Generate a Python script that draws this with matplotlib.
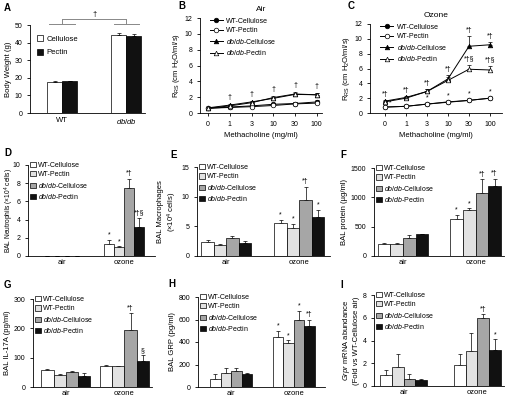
import matplotlib
matplotlib.use("Agg")
import matplotlib.pyplot as plt
import numpy as np
from matplotlib.patches import Patch
from matplotlib.lines import Line2D

plt.rcParams['font.family'] = ['Liberation Sans', 'DejaVu Sans']
plt.rcParams['mathtext.fontset'] = 'custom'
plt.rcParams['mathtext.rm'] = 'Liberation Sans'
plt.rcParams['mathtext.it'] = 'Liberation Sans:italic'
plt.rcParams['font.size'] = 5
plt.rcParams['axes.linewidth'] = 0.6
plt.rcParams['xtick.major.width'] = 0.6
plt.rcParams['ytick.major.width'] = 0.6
plt.rcParams['xtick.major.size'] = 2
plt.rcParams['ytick.major.size'] = 2
plt.rcParams['xtick.labelsize'] = 5
plt.rcParams['ytick.labelsize'] = 5

# ---- data ----
groups_a = ['WT', r'$\mathit{db/db}$']
bw_cellulose = [17.8, 44.5]
bw_cellulose_err = [0.3, 1.0]
bw_pectin = [18.0, 43.5]
bw_pectin_err = [0.4, 1.5]

mch_labels = ['0', '1', '3', '10', '30', '100']
series_names = ['WT-Cellulose', 'WT-Pectin', r'$\mathit{db/db}$-Cellulose', r'$\mathit{db/db}$-Pectin']

air_wt_cel = [0.6, 0.75, 0.9, 1.1, 1.2, 1.4]
air_wt_pec = [0.6, 0.7, 0.8, 0.95, 1.15, 1.25]
air_db_cel = [0.65, 1.0, 1.4, 1.85, 2.35, 2.3]
air_db_pec = [0.6, 0.9, 1.3, 1.95, 2.4, 2.3]
air_err = [0.05, 0.1, 0.15, 0.2, 0.2, 0.2]

oz_wt_cel = [0.8, 0.9, 1.2, 1.5, 1.7, 2.0]
oz_wt_pec = [0.8, 0.9, 1.2, 1.45, 1.7, 2.0]
oz_db_cel = [1.6, 2.1, 2.9, 4.6, 9.0, 9.2]
oz_db_cel_err = [0.2, 0.2, 0.3, 0.5, 1.4, 0.4]
oz_db_pec = [1.5, 2.0, 2.9, 4.4, 5.9, 5.8]
oz_db_pec_err = [0.15, 0.2, 0.3, 0.4, 0.6, 0.6]
oz_wt_err = [0.05, 0.1, 0.1, 0.1, 0.15, 0.15]

bar_groups = ['air', 'ozone']
# each: [WT-Cel, WT-Pec, db-Cel, db-Pec] per group
neut = [[0, 0, 0, 0], [1.3, 0.95, 7.5, 3.15]]
neut_err = [[0, 0, 0, 0], [0.45, 0.1, 1.0, 1.0]]
neut_marks = [['', '', '', ''], ['*', '*', '*†', '*†§']]

macro = [[2.4, 1.8, 3.0, 2.2], [5.5, 4.7, 9.5, 6.6]]
macro_err = [[0.3, 0.2, 0.4, 0.4], [0.6, 0.7, 2.2, 1.2]]
macro_marks = [['', '', '', ''], ['*', '*', '*†', '*']]

protein = [[200, 210, 310, 370], [630, 790, 1070, 1190]]
protein_err = [[20, 10, 50, 0], [70, 20, 240, 130]]
protein_marks = [['', '', '', ''], ['*', '*', '*†', '*†']]

il17 = [[57, 42, 52, 36], [72, 70, 193, 88]]
il17_err = [[3, 3, 2, 13], [2, 2, 58, 20]]
il17_marks = [['', '', '', ''], ['', '', '*†', '§']]

grp = [[75, 125, 140, 115], [445, 390, 600, 545]]
grp_err = [[45, 45, 25, 10], [55, 25, 75, 55]]
grp_marks = [['', '', '', ''], ['*', '*', '*', '*†']]

grpr = [[1.0, 1.7, 0.65, 0.55], [1.85, 3.1, 6.0, 3.2]]
grpr_err = [[0.4, 1.1, 0.4, 0.05], [1.0, 1.6, 0.3, 0.9]]
grpr_marks = [['', '', '', ''], ['', '', '*†', '*']]

bar_colors = ['white', '#e2e2e2', '#a6a6a6', '#111111']

W, H = 506, 398
fig = plt.figure(figsize=(W / 100, H / 100), dpi=100)


def px_axes(x0, y0, x1, y1):
    ax = fig.add_axes([x0 / W, 1 - y1 / H, (x1 - x0) / W, (y1 - y0) / H])
    ax.spines['top'].set_visible(False)
    ax.spines['right'].set_visible(False)
    return ax


def letter(x, y, s):
    fig.text(x / W, 1 - y / H, s, fontsize=7, fontweight='bold', ha='left', va='center')


def bar_panel(ax, vals, errs, marks, ymax, yticks, ylabel, width, xlim, ylsize=5.5):
    vals = np.array(vals)
    errs = np.array(errs)
    x = np.arange(len(bar_groups))
    for i in range(4):
        pos = x + (i - 1.5) * width
        ax.bar(pos, vals[:, i], width, color=bar_colors[i], edgecolor='black', linewidth=0.5, zorder=2)
        e = errs[:, i]
        ax.errorbar(pos, vals[:, i], yerr=[np.zeros_like(e), e], fmt='none', ecolor='black',
                    elinewidth=0.5, capsize=1.5, capthick=0.5, zorder=1)
        for j in range(len(bar_groups)):
            if marks[j][i]:
                ax.text(pos[j], vals[j, i] + errs[j, i] + ymax * 0.015, marks[j][i],
                        ha='center', va='bottom', fontsize=5)
    ax.set_ylim(0, ymax)
    ax.set_yticks(yticks)
    ax.set_xlim(*xlim)
    ax.set_xticks(x)
    ax.set_xticklabels(bar_groups, fontsize=5.5)
    ax.tick_params(axis='x', length=0, pad=2)
    ax.set_ylabel(ylabel, fontsize=ylsize, labelpad=2)
    handles = [Patch(facecolor=c, edgecolor='black', linewidth=0.5) for c in bar_colors]
    ax.legend(handles, series_names, loc='upper left', bbox_to_anchor=(0.0, 1.06), frameon=False,
              fontsize=5, handlelength=0.8, handleheight=0.8, handletextpad=0.4,
              labelspacing=0.35, borderpad=0, borderaxespad=0.3)


# ---- A ----
ax = px_axes(30, 25, 145, 113)
xa = np.arange(2)
wa = 0.233
ax.bar(xa - wa / 2, bw_cellulose, wa, color='white', edgecolor='black', linewidth=0.5, zorder=2)
ax.bar(xa + wa / 2, bw_pectin, wa, color='#111111', edgecolor='black', linewidth=0.5, zorder=2)
ax.errorbar(xa - wa / 2, bw_cellulose, yerr=[[0, 0], bw_cellulose_err], fmt='none', ecolor='black',
            elinewidth=0.5, capsize=1.5, capthick=0.5)
ax.errorbar(xa + wa / 2, bw_pectin, yerr=[[0, 0], bw_pectin_err], fmt='none', ecolor='black',
            elinewidth=0.5, capsize=1.5, capthick=0.5)
ax.set_ylim(0, 50)
ax.set_yticks([0, 10, 20, 30, 40, 50])
ax.set_xlim(-0.5, 1.29)
ax.set_xticks(xa)
ax.set_xticklabels(groups_a, fontsize=5.5)
ax.tick_params(axis='x', length=0, pad=3)
ax.set_ylabel('Body Weight (g)', fontsize=5.5, labelpad=2)
for g in xa:
    ax.plot([g - 0.2, g + 0.2], [50.6, 50.6], color='#888888', lw=0.7, clip_on=False)
    ax.plot([g, g], [50.6, 53.2], color='#888888', lw=0.7, clip_on=False)
ax.plot([0, 1], [53.2, 53.2], color='#888888', lw=0.7, clip_on=False)
ax.text(0.5, 53.8, '†', ha='center', va='bottom', fontsize=5.5)
ax.legend([Patch(facecolor='white', edgecolor='black', linewidth=0.5),
           Patch(facecolor='#111111', edgecolor='black', linewidth=0.5)],
          ['Cellulose', 'Pectin'], loc='upper left', bbox_to_anchor=(0.03, 0.93), frameon=False,
          fontsize=5.5, handlelength=0.8, handleheight=0.8, handletextpad=0.4,
          labelspacing=0.8, borderpad=0)
letter(4, 8, 'A')


# ---- B / C ----
def line_panel(ax, wc, wp, dc, dp, wc_e, wp_e, dc_e, dp_e, title, xlim):
    x = np.arange(len(mch_labels))
    specs = [(wc, wc_e, 'o', 'black'), (wp, wp_e, 'o', 'white'),
             (dc, dc_e, '^', 'black'), (dp, dp_e, '^', 'white')]
    for (vals, e, m, fc) in specs:
        ax.errorbar(x, vals, yerr=[np.zeros(len(e)), e], color='black', lw=0.7, marker=m,
                    markersize=3.3, markerfacecolor=fc, markeredgecolor='black', markeredgewidth=0.5,
                    elinewidth=0.5, capsize=1.5, capthick=0.5)
    ax.set_ylim(0, 12)
    ax.set_yticks([0, 2, 4, 6, 8, 10, 12])
    ax.set_xlim(*xlim)
    ax.set_xticks(x)
    ax.set_xticklabels(mch_labels)
    ax.set_xlabel('Methacholine (mg/ml)', fontsize=5.5, labelpad=3)
    ax.set_ylabel(r'R$_{\mathrm{RS}}$ (cm H$_2$O/ml/s)', fontsize=5.5, labelpad=2)
    ax.set_title(title, fontsize=6, pad=5)
    handles = [Line2D([], [], color='black', lw=0.7, marker=m, markersize=3.3, markerfacecolor=fc,
                      markeredgewidth=0.5) for (_, _, m, fc) in specs]
    ax.legend(handles, series_names, loc='upper left', bbox_to_anchor=(0.05, 1.04), frameon=False,
              fontsize=5, handlelength=1.9, handletextpad=0.5, labelspacing=0.35, borderpad=0)
    return x


ax = px_axes(200, 18, 322, 113)
x = line_panel(ax, air_wt_cel, air_wt_pec, air_db_cel, air_db_pec,
               air_err, air_err, air_err, air_err, 'Air', (-0.37, 5.24))
for i in range(1, 6):
    top = max(air_db_cel[i], air_db_pec[i]) + air_err[i]
    ax.text(x[i], top + 0.4, '†', ha='center', va='bottom', fontsize=5)
letter(178, 6, 'B')

ax = px_axes(370, 24, 502, 113)
x = line_panel(ax, oz_wt_cel, oz_wt_pec, oz_db_cel, oz_db_pec,
               oz_wt_err, oz_wt_err, oz_db_cel_err, oz_db_pec_err, 'Ozone', (-0.71, 5.57))
for i in range(6):
    ax.text(x[i] + (0.25 if i == 0 else 0), oz_wt_cel[i] + oz_wt_err[i] + (0.0 if i == 0 else 0.25), '*',
            ha='center', va='bottom', fontsize=5)
    ax.text(x[i], oz_db_cel[i] + oz_db_cel_err[i] + 0.25, '*†', ha='center', va='bottom', fontsize=5)
for i in (4, 5):
    ax.text(x[i], oz_db_pec[i] + oz_db_pec_err[i] + 0.2, '*†§', ha='center', va='bottom', fontsize=5)
letter(348, 6, 'C')

# ---- D-I ----
ax = px_axes(28, 165, 155, 256)
bar_panel(ax, neut, neut_err, neut_marks, 10, [0, 2, 4, 6, 8, 10],
          r'BAL Neutrophils ($\times$10$^4$ cells)', 0.16, (-0.55, 1.5), ylsize=4.8)
ax.yaxis.set_label_coords(-0.095, 0.5)
letter(4, 153, 'D')

ax = px_axes(197, 167, 330, 256)
bar_panel(ax, macro, macro_err, macro_marks, 15, [0, 5, 10, 15],
          'BAL Macrophages\n' + r'($\times$10$^4$ cells)', 0.17, (-0.4, 1.42))
letter(170, 155, 'E')

ax = px_axes(374, 168, 504, 256)
bar_panel(ax, protein, protein_err, protein_marks, 1500, [0, 500, 1000, 1500],
          'BAL protein (µg/ml)', 0.174, (-0.4, 1.39))
letter(340, 155, 'F')

ax = px_axes(33, 299, 152, 387)
bar_panel(ax, il17, il17_err, il17_marks, 300, [0, 100, 200, 300],
          'BAL IL-17A (pg/ml)', 0.21, (-0.56, 1.47))
letter(4, 285, 'G')

ax = px_axes(198, 297, 325, 387)
bar_panel(ax, grp, grp_err, grp_marks, 800, [0, 200, 400, 600, 800],
          'BAL GRP (pg/ml)', 0.168, (-0.53, 1.5))
letter(168, 284, 'H')

ax = px_axes(374, 295, 504, 386)
bar_panel(ax, grpr, grpr_err, grpr_marks, 8, [0, 2, 4, 6, 8],
          r'$\mathit{Grpr}$ mRNA abundance' + '\n(Fold vs WT-Cellulose air)', 0.16, (-0.4, 1.36))
letter(340, 285, 'I')

fig.savefig('out.png', dpi=100)
plt.close(fig)
